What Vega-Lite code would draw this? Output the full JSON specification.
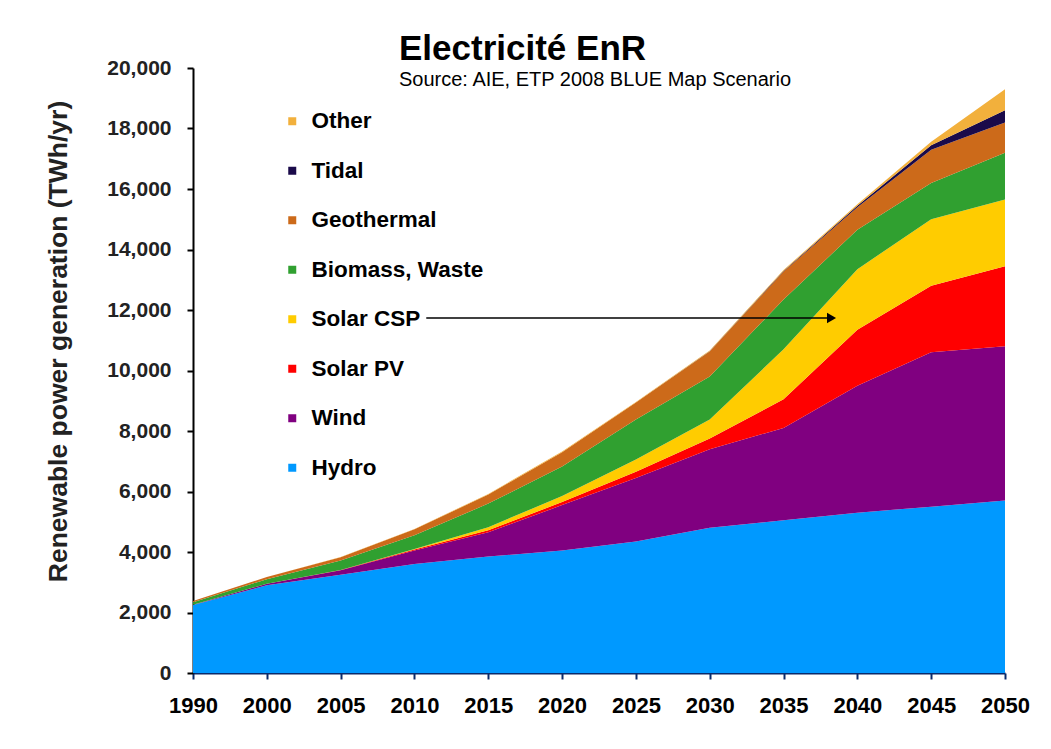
{
  "$schema": "https://vega.github.io/schema/vega-lite/v6.json",
  "width": 812,
  "height": 605,
  "autosize": {"type": "none"},
  "padding": {"left": 193, "top": 68, "right": 46, "bottom": 76},
  "background": "white",
  "config": {"font": "Liberation Sans", "view": {"stroke": null}},
  "title": {
    "text": "Electricité EnR",
    "subtitle": "Source: AIE, ETP 2008 BLUE Map Scenario",
    "anchor": "start",
    "dx": 354,
    "fontSize": 35,
    "fontWeight": "bold",
    "color": "black",
    "subtitleFontSize": 20,
    "subtitleColor": "black",
    "subtitlePadding": 3,
    "offset": -33
  },
  "layer": [
    {
      "data": {
        "values": [
          {"year": "1990", "source": "Hydro", "value": 2250},
          {"year": "1990", "source": "Wind", "value": 5},
          {"year": "1990", "source": "Solar PV", "value": 0},
          {"year": "1990", "source": "Solar CSP", "value": 0},
          {"year": "1990", "source": "Biomass, Waste", "value": 85},
          {"year": "1990", "source": "Geothermal", "value": 40},
          {"year": "1990", "source": "Tidal", "value": 0},
          {"year": "1990", "source": "Other", "value": 0},
          {"year": "2000", "source": "Hydro", "value": 2900},
          {"year": "2000", "source": "Wind", "value": 50},
          {"year": "2000", "source": "Solar PV", "value": 0},
          {"year": "2000", "source": "Solar CSP", "value": 0},
          {"year": "2000", "source": "Biomass, Waste", "value": 150},
          {"year": "2000", "source": "Geothermal", "value": 70},
          {"year": "2000", "source": "Tidal", "value": 0},
          {"year": "2000", "source": "Other", "value": 5},
          {"year": "2005", "source": "Hydro", "value": 3250},
          {"year": "2005", "source": "Wind", "value": 150},
          {"year": "2005", "source": "Solar PV", "value": 5},
          {"year": "2005", "source": "Solar CSP", "value": 0},
          {"year": "2005", "source": "Biomass, Waste", "value": 315},
          {"year": "2005", "source": "Geothermal", "value": 110},
          {"year": "2005", "source": "Tidal", "value": 0},
          {"year": "2005", "source": "Other", "value": 5},
          {"year": "2010", "source": "Hydro", "value": 3600},
          {"year": "2010", "source": "Wind", "value": 450},
          {"year": "2010", "source": "Solar PV", "value": 30},
          {"year": "2010", "source": "Solar CSP", "value": 20},
          {"year": "2010", "source": "Biomass, Waste", "value": 450},
          {"year": "2010", "source": "Geothermal", "value": 200},
          {"year": "2010", "source": "Tidal", "value": 0},
          {"year": "2010", "source": "Other", "value": 10},
          {"year": "2015", "source": "Hydro", "value": 3850},
          {"year": "2015", "source": "Wind", "value": 800},
          {"year": "2015", "source": "Solar PV", "value": 70},
          {"year": "2015", "source": "Solar CSP", "value": 100},
          {"year": "2015", "source": "Biomass, Waste", "value": 780},
          {"year": "2015", "source": "Geothermal", "value": 300},
          {"year": "2015", "source": "Tidal", "value": 0},
          {"year": "2015", "source": "Other", "value": 20},
          {"year": "2020", "source": "Hydro", "value": 4050},
          {"year": "2020", "source": "Wind", "value": 1500},
          {"year": "2020", "source": "Solar PV", "value": 100},
          {"year": "2020", "source": "Solar CSP", "value": 200},
          {"year": "2020", "source": "Biomass, Waste", "value": 980},
          {"year": "2020", "source": "Geothermal", "value": 470},
          {"year": "2020", "source": "Tidal", "value": 0},
          {"year": "2020", "source": "Other", "value": 20},
          {"year": "2025", "source": "Hydro", "value": 4350},
          {"year": "2025", "source": "Wind", "value": 2100},
          {"year": "2025", "source": "Solar PV", "value": 200},
          {"year": "2025", "source": "Solar CSP", "value": 410},
          {"year": "2025", "source": "Biomass, Waste", "value": 1320},
          {"year": "2025", "source": "Geothermal", "value": 560},
          {"year": "2025", "source": "Tidal", "value": 0},
          {"year": "2025", "source": "Other", "value": 20},
          {"year": "2030", "source": "Hydro", "value": 4800},
          {"year": "2030", "source": "Wind", "value": 2600},
          {"year": "2030", "source": "Solar PV", "value": 350},
          {"year": "2030", "source": "Solar CSP", "value": 630},
          {"year": "2030", "source": "Biomass, Waste", "value": 1420},
          {"year": "2030", "source": "Geothermal", "value": 830},
          {"year": "2030", "source": "Tidal", "value": 10},
          {"year": "2030", "source": "Other", "value": 20},
          {"year": "2035", "source": "Hydro", "value": 5050},
          {"year": "2035", "source": "Wind", "value": 3050},
          {"year": "2035", "source": "Solar PV", "value": 950},
          {"year": "2035", "source": "Solar CSP", "value": 1650},
          {"year": "2035", "source": "Biomass, Waste", "value": 1650},
          {"year": "2035", "source": "Geothermal", "value": 920},
          {"year": "2035", "source": "Tidal", "value": 20},
          {"year": "2035", "source": "Other", "value": 30},
          {"year": "2040", "source": "Hydro", "value": 5300},
          {"year": "2040", "source": "Wind", "value": 4200},
          {"year": "2040", "source": "Solar PV", "value": 1850},
          {"year": "2040", "source": "Solar CSP", "value": 2000},
          {"year": "2040", "source": "Biomass, Waste", "value": 1300},
          {"year": "2040", "source": "Geothermal", "value": 750},
          {"year": "2040", "source": "Tidal", "value": 50},
          {"year": "2040", "source": "Other", "value": 50},
          {"year": "2045", "source": "Hydro", "value": 5500},
          {"year": "2045", "source": "Wind", "value": 5100},
          {"year": "2045", "source": "Solar PV", "value": 2200},
          {"year": "2045", "source": "Solar CSP", "value": 2200},
          {"year": "2045", "source": "Biomass, Waste", "value": 1200},
          {"year": "2045", "source": "Geothermal", "value": 1100},
          {"year": "2045", "source": "Tidal", "value": 150},
          {"year": "2045", "source": "Other", "value": 110},
          {"year": "2050", "source": "Hydro", "value": 5700},
          {"year": "2050", "source": "Wind", "value": 5100},
          {"year": "2050", "source": "Solar PV", "value": 2650},
          {"year": "2050", "source": "Solar CSP", "value": 2200},
          {"year": "2050", "source": "Biomass, Waste", "value": 1550},
          {"year": "2050", "source": "Geothermal", "value": 1000},
          {"year": "2050", "source": "Tidal", "value": 400},
          {"year": "2050", "source": "Other", "value": 700}
        ]
      },
      "transform": [
        {"calculate": "indexof(['Hydro','Wind','Solar PV','Solar CSP','Biomass, Waste','Geothermal','Tidal','Other'], datum.source)", "as": "k"}
      ],
      "mark": {"type": "area", "interpolate": "linear"},
      "encoding": {
        "x": {
          "field": "year",
          "type": "ordinal",
          "scale": {"type": "point", "padding": 0},
          "axis": {
            "title": null,
            "labelAngle": 0,
            "labelFontSize": 22,
            "labelFontWeight": "bold",
            "labelColor": "black",
            "labelPadding": 16,
            "domainColor": "#0A2A6A",
            "domainWidth": 2,
            "tickColor": "#0A2A6A",
            "tickWidth": 2,
            "tickSize": 6,
            "grid": false
          }
        },
        "y": {
          "field": "value",
          "type": "quantitative",
          "stack": "zero",
          "scale": {"domain": [0, 20000], "nice": false},
          "axis": {
            "title": "Renewable power generation (TWh/yr)",
            "titleFontSize": 26.5,
            "titleFontWeight": "bold",
            "titleColor": "#222222",
            "titleAngle": -90,
            "titleX": -135,
            "titleY": 273,
            "titleAlign": "center",
            "titleBaseline": "middle",
            "values": [0, 2000, 4000, 6000, 8000, 10000, 12000, 14000, 16000, 18000, 20000],
            "format": ",.0f",
            "labelFontSize": 21,
            "labelFontWeight": "bold",
            "labelColor": "#222222",
            "labelPadding": 16,
            "tickSize": 6,
            "tickColor": "black",
            "tickWidth": 2,
            "domainColor": "black",
            "domainWidth": 2,
            "grid": false
          }
        },
        "color": {
          "field": "source",
          "type": "nominal",
          "scale": {
            "domain": ["Other", "Tidal", "Geothermal", "Biomass, Waste", "Solar CSP", "Solar PV", "Wind", "Hydro"],
            "range": ["#F2B03C", "#1A0A4A", "#CC6A1A", "#30A030", "#FFCC00", "#FF0000", "#800080", "#0099FF"]
          },
          "legend": {
            "orient": "none",
            "legendX": 88,
            "legendY": 42,
            "title": null,
            "padding": 0,
            "labelFontSize": 22.5,
            "labelFontWeight": "bold",
            "labelColor": "black",
            "labelOffset": 8,
            "labelLimit": 400,
            "symbolType": "square",
            "symbolSize": 64,
            "symbolStrokeWidth": 0,
            "symbolOpacity": 1,
            "rowPadding": 26.5
          }
        },
        "order": {"field": "k", "type": "quantitative"}
      }
    },
    {
      "data": {"values": [{"from": 3.16, "to": 8.6, "value": 11736}]},
      "mark": {"type": "rule", "color": "black", "strokeWidth": 1.5},
      "encoding": {
        "x": {"field": "from", "type": "quantitative", "scale": {"domain": [0, 11], "nice": false, "zero": false}, "axis": null},
        "x2": {"field": "to"},
        "y": {"field": "value", "type": "quantitative"}
      }
    },
    {
      "data": {"values": [{"head": 8.65, "value": 11736}]},
      "mark": {"type": "point", "shape": "triangle-right", "filled": true, "color": "black", "opacity": 1, "size": 110},
      "encoding": {
        "x": {"field": "head", "type": "quantitative", "scale": {"domain": [0, 11], "nice": false, "zero": false}, "axis": null},
        "y": {"field": "value", "type": "quantitative"}
      }
    }
  ],
  "resolve": {"scale": {"x": "independent"}}
}
